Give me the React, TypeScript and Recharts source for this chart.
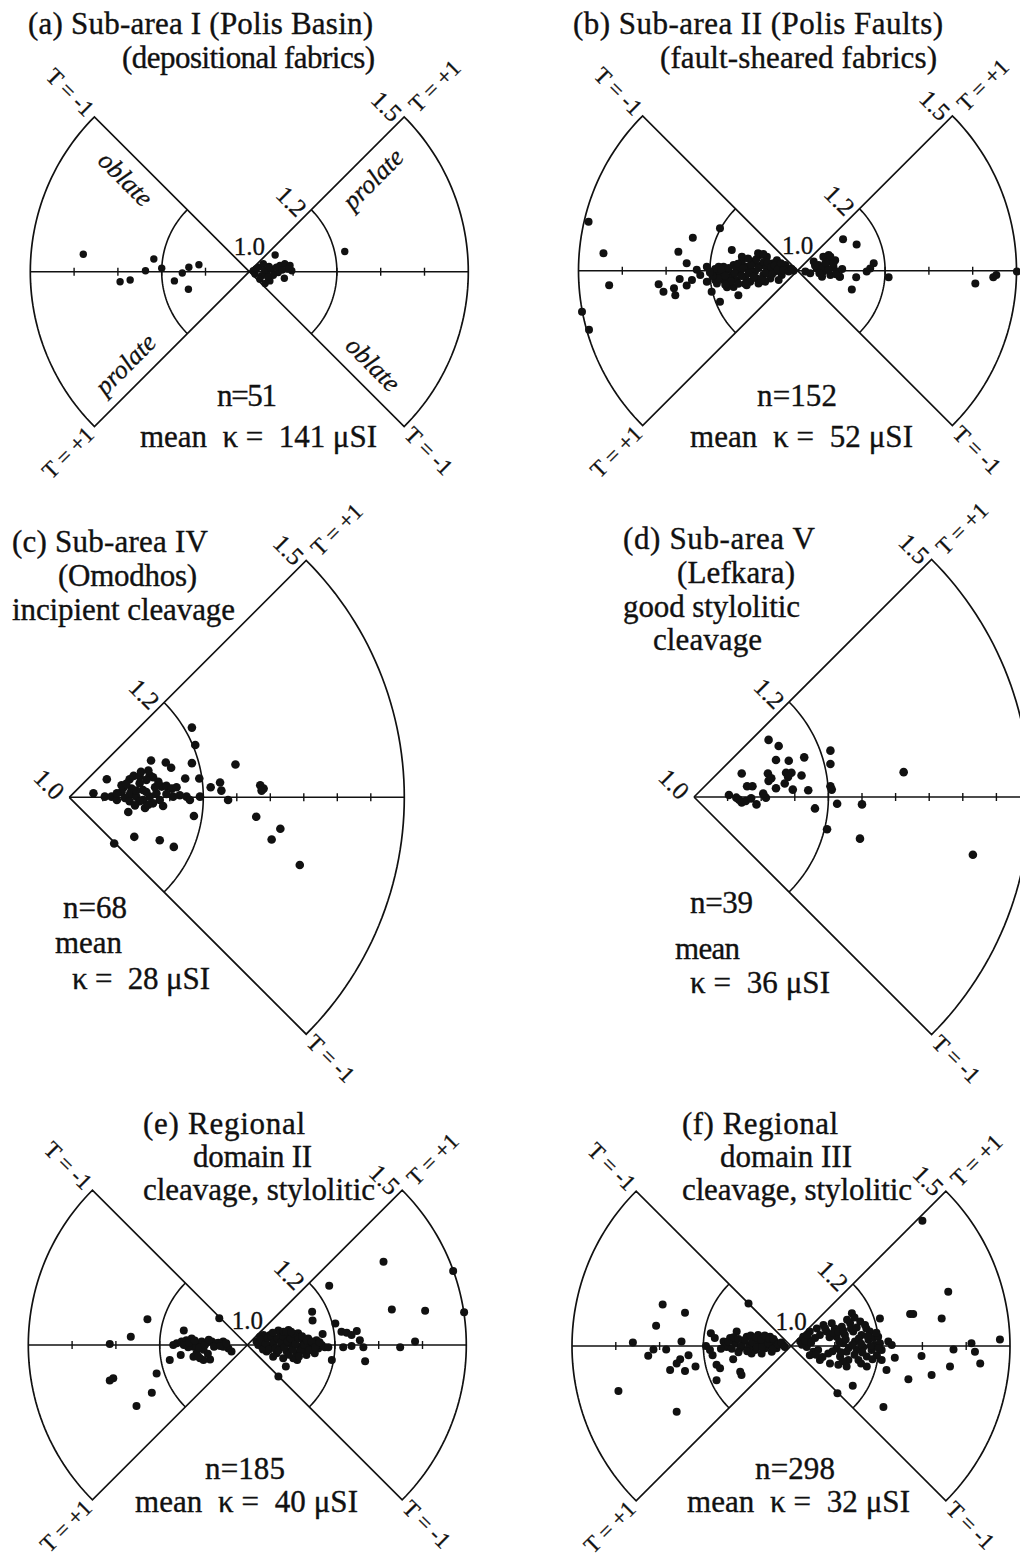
import React from "react";
import { ScatterChart, Scatter, XAxis, YAxis, ReferenceLine } from "recharts";

type Pt = [number, number];

const FONT = '"Liberation Serif", "Times New Roman", serif';
const INK = "#111";
const RAD = Math.PI / 180;
const K = Math.SQRT1_2;

// P' - 1 of the two arcs (1.2 and 1.5)
const INNER_R = 0.2;
const OUTER_R = 0.5;

// tick positions along the horizontal axis (P' - 1)
const BOWTIE_TICKS = [-0.4, -0.3, -0.2, -0.1, 0.1, 0.2, 0.3, 0.4];
const WEDGE_TICKS = [0.05, 0.1, 0.15, 0.2, 0.25, 0.3, 0.35, 0.4, 0.45];

// points as [horizontal, vertical] components of P' - 1 (left wedge = negative x)
const aPoints: Pt[] = [
  [-0.379, 0.04], [-0.295, -0.023], [-0.272, -0.019], [-0.237, 0.002], [-0.218, 0.029],
  [-0.2, 0.008], [-0.171, -0.021], [-0.153, -0.003], [-0.138, 0.01], [-0.139, -0.04],
  [-0.115, 0.016],
  [0.059, 0.038], [0.009, 0.002], [0.021, 0.01], [0.032, 0.018], [0.04, -0.002],
  [0.051, 0.006], [0.028, -0.009], [0.047, -0.021], [0.07, 0.014], [0.081, 0.018],
  [0.093, 0.014], [0.08, -0.015], [0.097, 0.002], [0.066, -0.002], [0.013, -0.005],
  [0.024, -0.017], [0.036, -0.027], [0.015, 0.006], [0.035, 0.004], [0.045, 0.012],
  [0.055, -0.008], [0.062, 0.01], [0.088, 0.006], [0.042, -0.012], [0.075, 0.004],
  [0.218, 0.046],
];

const bPoints: Pt[] = [
  [-0.477, 0.112], [-0.443, 0.04], [-0.43, -0.033], [-0.492, -0.094], [-0.476, -0.135],
  [-0.239, 0.075], [-0.272, 0.043], [-0.253, 0.017], [-0.317, -0.031], [-0.306, -0.048],
  [-0.282, -0.04], [-0.279, -0.056], [-0.269, -0.019], [-0.253, -0.034], [-0.241, -0.021],
  [-0.23, 0.002], [-0.222, -0.01], [-0.207, -0.025], [-0.177, 0.097], [-0.15, 0.047],
  [-0.135, -0.056], [-0.177, -0.071], [-0.196, -0.048], [-0.207, 0.009],
  [-0.192, -0.002], [-0.184, -0.014], [-0.177, -0.006], [-0.169, -0.021], [-0.161, 0.002],
  [-0.158, -0.029], [-0.15, -0.01], [-0.146, 0.013], [-0.139, -0.021], [-0.131, -0.002],
  [-0.127, 0.021], [-0.119, -0.014], [-0.116, 0.009], [-0.108, -0.025], [-0.104, 0.021],
  [-0.097, -0.002], [-0.093, -0.018], [-0.085, 0.036], [-0.081, 0.013], [-0.078, -0.01],
  [-0.07, 0.032], [-0.066, 0.005], [-0.062, -0.018], [-0.055, 0.017], [-0.051, -0.002],
  [-0.047, 0.024], [-0.04, 0.009], [-0.036, -0.01], [-0.028, 0.013], [-0.024, 0.002],
  [-0.017, 0.005], [-0.009, 0.0], [-0.116, -0.033], [-0.146, -0.037], [-0.161, -0.038],
  [-0.184, -0.029], [-0.089, -0.029], [-0.074, -0.025], [-0.043, -0.021], [-0.127, 0.032],
  [-0.07, 0.009], [-0.097, 0.017], [-0.108, 0.002], [-0.139, 0.005], [-0.154, -0.018],
  [-0.169, 0.009], [-0.188, -0.021], [-0.18, 0.009],
  [-0.188, 0.004], [-0.181, -0.018], [-0.174, 0.003], [-0.165, -0.012], [-0.157, 0.006],
  [-0.152, -0.024], [-0.143, -0.005], [-0.136, 0.016], [-0.128, -0.012], [-0.123, 0.006],
  [-0.112, -0.006], [-0.106, 0.014], [-0.1, -0.014], [-0.094, 0.026], [-0.089, 0.006],
  [-0.083, -0.02], [-0.077, 0.02], [-0.073, -0.004], [-0.068, 0.018], [-0.06, 0.008],
  [-0.058, -0.008], [-0.052, 0.012], [-0.045, 0.003], [-0.038, 0.017], [-0.032, 0.001],
  [-0.02, -0.002], [-0.013, 0.004], [-0.09, 0.04], [-0.078, 0.038], [-0.113, 0.028],
  [-0.12, -0.03], [-0.135, -0.03], [-0.165, -0.032], [-0.194, -0.012], [-0.2, -0.004],
  [0.104, 0.072], [0.135, 0.06], [0.037, 0.021], [0.048, 0.013], [0.059, 0.032],
  [0.071, 0.036], [0.076, 0.021], [0.067, 0.005], [0.059, -0.002], [0.044, 0.005],
  [0.029, -0.006], [0.018, -0.002], [0.082, 0.009], [0.09, -0.002], [0.097, -0.014],
  [0.086, 0.024], [0.075, -0.01], [0.056, -0.014], [0.174, 0.017], [0.166, 0.005],
  [0.158, -0.002], [0.134, -0.015], [0.124, -0.043], [0.096, -0.014], [0.208, -0.015],
  [0.406, -0.029], [0.447, -0.015], [0.454, -0.01], [0.501, -0.002], [0.075, 0.032],
  [0.059, 0.009], [0.071, 0.002], [0.082, 0.017], [0.05, -0.006], [0.064, 0.018],
  [0.088, -0.008], [0.102, 0.004], [0.04, 0.012],
];

const cPoints: Pt[] = [
  [0.183, 0.104], [0.188, 0.078], [0.122, 0.055], [0.144, 0.052], [0.152, 0.044],
  [0.183, 0.051], [0.248, 0.049], [0.056, 0.027], [0.09, 0.027], [0.096, 0.032],
  [0.12, 0.033], [0.125, 0.03], [0.115, 0.026], [0.105, 0.021], [0.093, 0.013],
  [0.081, 0.015], [0.078, 0.008], [0.091, 0.006], [0.1, 0.001], [0.11, -0.004],
  [0.12, 0.001], [0.13, 0.006], [0.138, 0.016], [0.145, 0.017], [0.153, 0.013],
  [0.16, 0.015], [0.173, 0.028], [0.194, 0.028], [0.211, 0.015], [0.225, 0.022],
  [0.227, 0.01], [0.237, -0.004], [0.195, 0.001], [0.175, 0.001], [0.165, 0.003],
  [0.155, 0.001], [0.135, -0.004], [0.125, -0.009], [0.113, -0.016], [0.088, -0.022],
  [0.14, -0.013], [0.053, 0.001], [0.036, 0.006], [0.063, 0.001], [0.071, -0.004],
  [0.285, 0.018], [0.29, 0.013], [0.287, 0.01], [0.279, -0.029], [0.315, -0.047],
  [0.302, -0.063], [0.186, -0.028], [0.097, -0.059], [0.135, -0.064], [0.156, -0.074],
  [0.067, -0.069], [0.344, -0.101], [0.18, -0.004], [0.105, -0.006], [0.083, -0.001],
  [0.11, 0.011], [0.128, 0.015], [0.105, 0.031], [0.078, 0.018], [0.09, -0.006],
  [0.118, -0.011], [0.071, 0.006], [0.133, 0.023], [0.085, 0.02], [0.1, 0.01],
  [0.115, 0.008], [0.098, -0.012], [0.145, 0.005], [0.118, 0.04], [0.107, 0.038],
];

const dPoints: Pt[] = [
  [0.111, 0.085], [0.126, 0.076], [0.122, 0.055], [0.141, 0.054], [0.164, 0.059],
  [0.203, 0.069], [0.203, 0.049], [0.071, 0.035], [0.11, 0.035], [0.111, 0.024],
  [0.137, 0.036], [0.145, 0.036], [0.16, 0.032], [0.079, 0.016], [0.087, 0.016],
  [0.122, 0.013], [0.135, 0.02], [0.147, 0.011], [0.17, 0.01], [0.203, 0.016],
  [0.205, 0.011], [0.052, 0.003], [0.063, -0.001], [0.071, -0.008], [0.077, -0.006],
  [0.093, -0.011], [0.107, -0.001], [0.103, 0.005], [0.18, -0.017], [0.213, -0.01],
  [0.25, -0.011], [0.198, -0.048], [0.247, -0.062], [0.312, 0.037], [0.415, -0.086],
  [0.085, -0.002], [0.067, -0.004], [0.115, 0.028], [0.14, 0.03],
];

const ePoints: Pt[] = [
  [-0.314, 0.002], [-0.266, 0.019], [-0.228, 0.059], [-0.306, -0.076], [-0.314, -0.081],
  [-0.207, -0.065], [-0.218, -0.109], [-0.253, -0.139], [-0.177, -0.034], [-0.152, -0.023],
  [-0.145, 0.033], [-0.064, 0.061], [-0.161, 0.004], [-0.15, 0.008], [-0.139, 0.011],
  [-0.127, 0.015], [-0.116, 0.004], [-0.104, 0.008], [-0.093, 0.005], [-0.081, 0.008],
  [-0.07, 0.004], [-0.055, 0.008], [-0.043, -0.008], [-0.036, -0.015], [-0.123, -0.004],
  [-0.116, -0.019], [-0.108, -0.03], [-0.085, -0.033], [-0.1, -0.011], [-0.135, -0.005],
  [-0.169, 0.0], [-0.055, -0.004], [-0.123, -0.027], [-0.1, -0.034], [-0.066, 0.005],
  [-0.145, 0.0], [-0.133, 0.005], [-0.12, 0.01], [-0.11, -0.006], [-0.097, 0.0],
  [-0.088, 0.012], [-0.076, -0.004], [-0.062, -0.002], [-0.048, 0.004], [-0.112, -0.026],
  [-0.09, -0.02],
  [0.187, 0.135], [0.148, 0.076], [0.149, 0.056], [0.201, 0.049], [0.215, 0.03],
  [0.227, 0.028], [0.238, 0.023], [0.25, 0.032], [0.257, 0.011], [0.265, -0.005],
  [0.219, -0.005], [0.238, -0.002], [0.269, -0.037], [0.193, -0.034], [0.088, -0.049],
  [0.071, -0.072], [0.349, -0.005], [0.383, 0.008], [0.33, 0.081], [0.406, 0.078],
  [0.311, 0.19], [0.47, 0.169], [0.495, 0.075], [0.172, 0.025], [0.114, -0.034],
  [0.021, 0.008], [0.029, 0.019], [0.033, -0.004], [0.04, 0.011], [0.044, -0.015],
  [0.052, 0.023], [0.056, 0.0], [0.063, 0.011], [0.067, -0.019], [0.075, 0.027],
  [0.078, -0.004], [0.086, 0.011], [0.09, -0.015], [0.097, 0.023], [0.101, 0.0],
  [0.109, 0.011], [0.113, -0.019], [0.116, 0.027], [0.12, -0.004], [0.128, 0.008],
  [0.132, -0.015], [0.139, 0.015], [0.143, -0.004], [0.151, 0.004], [0.158, 0.011],
  [0.162, -0.008], [0.17, 0.0], [0.177, -0.005], [0.185, -0.005], [0.059, -0.027],
  [0.105, -0.03], [0.071, 0.033], [0.094, 0.034], [0.029, 0.004], [0.048, -0.008],
  [0.135, -0.023], [0.154, -0.019], [0.037, 0.023], [0.082, -0.03],
  [0.025, 0.0], [0.031, 0.012], [0.036, -0.01], [0.042, 0.003], [0.047, 0.016],
  [0.05, -0.01], [0.055, 0.02], [0.06, 0.005], [0.064, -0.008], [0.069, 0.015],
  [0.072, -0.012], [0.077, 0.006], [0.082, 0.02], [0.085, -0.005], [0.092, 0.008],
  [0.095, -0.022], [0.099, 0.015], [0.104, -0.01], [0.107, 0.025], [0.11, 0.002],
  [0.117, 0.015], [0.122, -0.012], [0.125, 0.02], [0.13, 0.0], [0.136, 0.01],
  [0.141, -0.012], [0.147, 0.008], [0.155, -0.005], [0.165, 0.006], [0.058, 0.028],
  [0.083, 0.03], [0.118, -0.026], [0.09, 0.03], [0.1, 0.03],
];

const fPoints: Pt[] = [
  [-0.394, -0.103], [-0.361, 0.008], [-0.293, 0.095], [-0.242, 0.076], [-0.308, 0.046],
  [-0.326, -0.022], [-0.314, -0.008], [-0.285, -0.008], [-0.25, 0.01], [-0.253, -0.03],
  [-0.234, -0.021], [-0.261, -0.04], [-0.276, -0.055], [-0.242, -0.057], [-0.218, -0.047],
  [-0.183, 0.029], [-0.194, 0.0], [-0.179, -0.021], [-0.17, -0.043], [-0.162, -0.051],
  [-0.17, -0.078], [-0.132, -0.03], [-0.116, -0.059], [-0.113, -0.066], [-0.097, 0.097],
  [-0.261, -0.15], [-0.174, 0.018], [-0.185, -0.009],
  [-0.154, 0.01], [-0.147, -0.002], [-0.139, 0.018], [-0.128, 0.006], [-0.124, 0.033],
  [-0.116, -0.005], [-0.109, 0.01], [-0.101, 0.021], [-0.094, 0.002], [-0.086, 0.014],
  [-0.082, -0.009], [-0.075, 0.025], [-0.071, 0.006], [-0.063, 0.018], [-0.059, -0.005],
  [-0.056, 0.01], [-0.048, 0.021], [-0.044, 0.002], [-0.037, 0.01], [-0.033, -0.005],
  [-0.025, 0.006], [-0.018, 0.002], [-0.067, -0.017], [-0.09, -0.017], [-0.044, -0.013],
  [-0.15, 0.0], [-0.143, 0.01], [-0.135, -0.006], [-0.131, 0.02], [-0.12, 0.016],
  [-0.113, 0.0], [-0.105, 0.014], [-0.097, -0.006], [-0.092, 0.024], [-0.088, 0.008],
  [-0.08, 0.02], [-0.078, -0.002], [-0.068, 0.014], [-0.066, -0.002], [-0.06, 0.024],
  [-0.052, 0.006], [-0.05, 0.016], [-0.04, 0.016], [-0.041, -0.006], [-0.03, 0.004],
  [-0.022, 0.008], [-0.014, -0.002], [-0.1, -0.012], [-0.12, -0.014], [-0.16, -0.006],
  [0.359, 0.124], [0.272, 0.073], [0.279, 0.073], [0.344, 0.063], [0.477, 0.015],
  [0.412, 0.006], [0.42, -0.013], [0.432, -0.04], [0.371, -0.008], [0.363, -0.047],
  [0.321, -0.066], [0.298, -0.023], [0.268, -0.076], [0.237, -0.027], [0.218, -0.055],
  [0.173, -0.047], [0.141, -0.091], [0.106, -0.108], [0.211, -0.139], [0.203, 0.063],
  [0.3, 0.286], [0.222, 0.01], [0.23, 0.002], [0.207, -0.032],
  [0.021, 0.01], [0.028, 0.021], [0.036, -0.002], [0.043, 0.033], [0.051, -0.013],
  [0.059, 0.04], [0.066, 0.025], [0.062, -0.009], [0.074, 0.048], [0.081, 0.033],
  [0.085, -0.017], [0.093, 0.052], [0.1, 0.04], [0.104, 0.021], [0.104, -0.005],
  [0.112, -0.024], [0.116, 0.044], [0.119, 0.006], [0.123, 0.025], [0.127, -0.013],
  [0.131, -0.032], [0.135, 0.052], [0.139, 0.075], [0.142, 0.033], [0.146, 0.01],
  [0.15, -0.009], [0.154, -0.032], [0.158, 0.056], [0.161, 0.025], [0.165, -0.002],
  [0.169, 0.048], [0.173, -0.024], [0.177, 0.014], [0.18, 0.033], [0.184, -0.009],
  [0.188, 0.018], [0.192, 0.002], [0.196, -0.021], [0.199, 0.021], [0.203, 0.006],
  [0.207, -0.009], [0.043, -0.021], [0.066, -0.032], [0.089, -0.04], [0.108, -0.043],
  [0.127, -0.047], [0.04, 0.014],
  [0.025, 0.003], [0.032, 0.012], [0.038, 0.025], [0.046, 0.008], [0.055, 0.018],
  [0.057, -0.02], [0.072, -0.025], [0.078, 0.04], [0.088, 0.02], [0.095, -0.012],
  [0.097, 0.03], [0.108, 0.032], [0.11, 0.01], [0.114, -0.014], [0.12, 0.035],
  [0.125, 0.015], [0.132, -0.004], [0.137, 0.04], [0.14, 0.002], [0.145, -0.02],
  [0.15, 0.042], [0.155, 0.017], [0.16, 0.005], [0.163, -0.015], [0.172, 0.04],
  [0.175, 0.022], [0.182, 0.0], [0.186, -0.03], [0.195, 0.03], [0.2, -0.005],
  [0.145, 0.065], [0.128, 0.06], [0.16, -0.04], [0.118, -0.035],
];

interface TextLine {
  text: string;
  x: number;
  y: number;
  w: number;
}

interface PanelDef {
  id: string;
  left: number;
  top: number;
  width: number;
  height: number;
  cx: number;
  cy: number;
  scale: number;
  bowtie: boolean;
  dotR: number;
  points: Pt[];
  title: TextLine[];
  stats: TextLine[];
  shapeLabels?: boolean;
}

const PANELS: PanelDef[] = [
  {
    id: "a", left: 0, top: 0, width: 510, height: 480, cx: 249.3, cy: 271.7, scale: 438,
    bowtie: true, dotR: 3.7, points: aPoints, shapeLabels: true,
    title: [
      { text: "(a) Sub-area I (Polis Basin)", x: 28, y: 34, w: 345 },
      { text: "(depositional fabrics)", x: 122, y: 68, w: 253 },
    ],
    stats: [
      { text: "n=51", x: 217, y: 406, w: 60 },
      { text: "mean  κ =  141 μSI", x: 140, y: 447, w: 237 },
    ],
  },
  {
    id: "b", left: 510, top: 0, width: 510, height: 480, cx: 797.5, cy: 270.7, scale: 438,
    bowtie: true, dotR: 4, points: bPoints,
    title: [
      { text: "(b) Sub-area II (Polis Faults)", x: 573, y: 34, w: 370 },
      { text: "(fault-sheared fabrics)", x: 660, y: 68, w: 277 },
    ],
    stats: [
      { text: "n=152", x: 757, y: 406, w: 80 },
      { text: "mean  κ =  52 μSI", x: 690, y: 447, w: 223 },
    ],
  },
  {
    id: "c", left: 0, top: 480, width: 510, height: 600, cx: 69.3, cy: 797.3, scale: 670,
    bowtie: false, dotR: 4.3, points: cPoints,
    title: [
      { text: "(c) Sub-area IV", x: 12, y: 552, w: 196 },
      { text: "(Omodhos)", x: 58, y: 586, w: 139 },
      { text: "incipient cleavage", x: 12, y: 620, w: 223 },
    ],
    stats: [
      { text: "n=68", x: 63, y: 918, w: 64 },
      { text: "mean", x: 55, y: 953, w: 67 },
      { text: "κ =  28 μSI", x: 72, y: 989, w: 138 },
    ],
  },
  {
    id: "d", left: 510, top: 480, width: 510, height: 600, cx: 694, cy: 797, scale: 672,
    bowtie: false, dotR: 4.3, points: dPoints,
    title: [
      { text: "(d) Sub-area V", x: 623, y: 549, w: 192 },
      { text: "(Lefkara)", x: 677, y: 583, w: 118 },
      { text: "good stylolitic", x: 623, y: 617, w: 177 },
      { text: "cleavage", x: 653, y: 650, w: 109 },
    ],
    stats: [
      { text: "n=39", x: 690, y: 913, w: 63 },
      { text: "mean", x: 675, y: 959, w: 65 },
      { text: "κ =  36 μSI", x: 690, y: 993, w: 140 },
    ],
  },
  {
    id: "e", left: 0, top: 1080, width: 510, height: 478, cx: 247.3, cy: 1345, scale: 438,
    bowtie: true, dotR: 4, points: ePoints,
    title: [
      { text: "(e) Regional", x: 143, y: 1134, w: 162 },
      { text: "domain II", x: 193, y: 1167, w: 119 },
      { text: "cleavage, stylolitic", x: 143, y: 1200, w: 232 },
    ],
    stats: [
      { text: "n=185", x: 205, y: 1479, w: 80 },
      { text: "mean  κ =  40 μSI", x: 135, y: 1512, w: 223 },
    ],
  },
  {
    id: "f", left: 510, top: 1080, width: 510, height: 478, cx: 791, cy: 1346, scale: 438,
    bowtie: true, dotR: 4, points: fPoints,
    title: [
      { text: "(f) Regional", x: 682, y: 1134, w: 156 },
      { text: "domain III", x: 720, y: 1167, w: 132 },
      { text: "cleavage, stylolitic", x: 682, y: 1200, w: 230 },
    ],
    stats: [
      { text: "n=298", x: 755, y: 1479, w: 80 },
      { text: "mean  κ =  32 μSI", x: 687, y: 1512, w: 223 },
    ],
  },
];

// outline geometry of the polar plot frame
function arc(r: number, a0: number, a1: number, n = 60) {
  const pts = [];
  for (let i = 0; i <= n; i++) {
    const a = (a0 + ((a1 - a0) * i) / n) * RAD;
    pts.push({ x: r * Math.cos(a), y: r * Math.sin(a) });
  }
  return pts;
}

function wedge(a0: number, a1: number) {
  return [{ x: 0, y: 0 }, ...arc(OUTER_R, a0, a1), { x: 0, y: 0 }];
}

const noDot = () => <g />;

interface Label {
  x: number;
  y: number;
  text: string;
  rot: number;
  anchor: "start" | "middle" | "end";
  size: number;
  italic?: boolean;
}

const T_SIZE = 23;
const T_GAP = 6;

function Panel({ p }: { p: PanelDef }) {
  const cx = p.cx - p.left;
  const cy = p.cy - p.top;
  const s = p.scale;
  const xDomain: [number, number] = [-cx / s, (p.width - cx) / s];
  const yDomain: [number, number] = [-(p.height - cy) / s, cy / s];
  const polar = (r: number, deg: number): [number, number] => [
    cx + r * Math.cos(deg * RAD) * s,
    cy - r * Math.sin(deg * RAD) * s,
  ];

  const outlines = p.bowtie ? [wedge(45, -45), wedge(135, 225)] : [wedge(45, -45)];
  const inner = p.bowtie
    ? [arc(INNER_R, 45, -45), arc(INNER_R, 135, 225)]
    : [arc(INNER_R, 45, -45)];
  const axis = p.bowtie
    ? [{ x: -OUTER_R, y: 0 }, { x: OUTER_R, y: 0 }]
    : [{ x: 0, y: 0 }, { x: OUTER_R, y: 0 }];
  const ticks = p.bowtie ? BOWTIE_TICKS : WEDGE_TICKS;
  const tickH = 4 / s;
  const data = p.points.map(([x, y]) => ({ x, y }));

  const labels: Label[] = [];
  const [tx, ty] = polar(OUTER_R, 45);
  labels.push({ x: tx - 17.6, y: ty - 10.6, text: "1.5", rot: 45, anchor: "middle", size: 25 });
  labels.push({ x: tx + 12 * K, y: ty - 12 * K, text: "T = +1", rot: -45, anchor: "start", size: T_SIZE });
  const [ix, iy] = polar(INNER_R, 45);
  labels.push({ x: ix - 19.8, y: iy - 8.4, text: "1.2", rot: 45, anchor: "middle", size: 25 });
  const [bx, by] = polar(OUTER_R, -45);
  labels.push({ x: bx + T_GAP * K, y: by + T_GAP * K, text: "T = -1", rot: 45, anchor: "start", size: T_SIZE });
  if (p.bowtie) {
    const [lx, ly] = polar(OUTER_R, 135);
    labels.push({ x: lx - T_GAP * K, y: ly - T_GAP * K, text: "T = -1", rot: 45, anchor: "end", size: T_SIZE });
    const [qx, qy] = polar(OUTER_R, 225);
    labels.push({ x: qx - T_GAP * K, y: qy + T_GAP * K, text: "T = +1", rot: -45, anchor: "end", size: T_SIZE });
    labels.push({ x: cx, y: cy - 25, text: "1.0", rot: 0, anchor: "middle", size: 25 });
  } else {
    labels.push({ x: cx - 20, y: cy - 13, text: "1.0", rot: 45, anchor: "middle", size: 25 });
  }
  if (p.shapeLabels) {
    const along = 153;
    const perp = 22;
    const put = (dx: number, dy: number, nx: number, ny: number, text: string, rot: number) =>
      labels.push({
        x: cx + along * dx + perp * nx,
        y: cy + along * dy + perp * ny,
        text, rot, anchor: "middle", size: 26, italic: true,
      });
    put(-K, -K, -K, K, "oblate", 45);
    put(K, -K, K, K, "prolate", -45);
    put(-K, K, -K, -K, "prolate", -45);
    put(K, K, K, -K, "oblate", 45);
  }

  const lines = [...p.title, ...p.stats];

  return (
    <div
      style={{
        position: "absolute",
        left: p.left,
        top: p.top,
        width: p.width,
        height: p.height,
      }}
    >
      <ScatterChart width={p.width} height={p.height} margin={{ top: 0, right: 0, bottom: 0, left: 0 }}>
        <XAxis type="number" dataKey="x" domain={xDomain} hide allowDataOverflow />
        <YAxis type="number" dataKey="y" domain={yDomain} hide allowDataOverflow />
        {outlines.map((o, i) => (
          <Scatter
            key={`w${i}`}
            data={o}
            line={{ stroke: INK, strokeWidth: 1.7 }}
            shape={noDot}
            isAnimationActive={false}
          />
        ))}
        {inner.map((o, i) => (
          <Scatter
            key={`i${i}`}
            data={o}
            line={{ stroke: INK, strokeWidth: 1.6 }}
            shape={noDot}
            isAnimationActive={false}
          />
        ))}
        <Scatter data={axis} line={{ stroke: INK, strokeWidth: 1.4 }} shape={noDot} isAnimationActive={false} />
        {ticks.map((t) => (
          <ReferenceLine
            key={`t${t}`}
            segment={[{ x: t, y: -tickH }, { x: t, y: tickH }]}
            stroke={INK}
            strokeWidth={1.4}
            ifOverflow="visible"
          />
        ))}
        <Scatter
          data={data}
          isAnimationActive={false}
          shape={(props: any) => <circle cx={props.cx} cy={props.cy} r={p.dotR} fill={INK} />}
        />
      </ScatterChart>
      <svg
        width={p.width}
        height={p.height}
        style={{ position: "absolute", left: 0, top: 0, pointerEvents: "none", overflow: "visible" }}
      >
        {labels.map((l, i) => (
          <text
            key={`l${i}`}
            x={l.x}
            y={l.y}
            transform={l.rot ? `rotate(${l.rot} ${l.x} ${l.y})` : undefined}
            textAnchor={l.anchor}
            dominantBaseline="central"
            fontFamily={FONT}
            fontSize={l.size}
            fontStyle={l.italic ? "italic" : "normal"}
            fill={INK}
            stroke={INK}
            strokeWidth={0.3}
          >
            {l.text}
          </text>
        ))}
        {lines.map((t, i) => (
          <text
            key={`t${i}`}
            x={t.x - p.left}
            y={t.y - p.top}
            textLength={t.w}
            lengthAdjust="spacing"
            fontFamily={FONT}
            fontSize={31}
            fill={INK}
            stroke={INK}
            strokeWidth={0.35}
            style={{ whiteSpace: "pre" }}
          >
            {t.text}
          </text>
        ))}
      </svg>
    </div>
  );
}

export default function App() {
  return (
    <div
      style={{
        position: "absolute",
        left: 0,
        top: 0,
        width: 1020,
        height: 1558,
        overflow: "hidden",
        background: "#fff",
      }}
    >
      {PANELS.map((p) => (
        <Panel key={p.id} p={p} />
      ))}
    </div>
  );
}
